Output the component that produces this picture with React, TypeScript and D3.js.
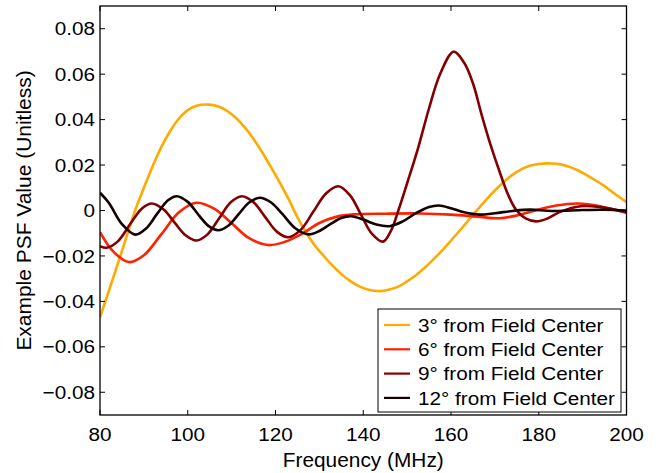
import React from "react";
import * as d3 from "d3";

// ---- data ----
const seriesNames = [
  "3\u00b0 from Field Center",
  "6\u00b0 from Field Center",
  "9\u00b0 from Field Center",
  "12\u00b0 from Field Center",
];
const seriesColors = ["#FFAA00", "#FF2200", "#840000", "#160000"];

const freq3 = [80, 82, 84, 86, 88, 90, 92, 94, 96, 98, 100, 102, 104.7, 107, 109, 111, 113, 115, 117, 119, 121, 123, 125, 127, 129, 131, 133, 135, 137, 139, 141, 143.8, 146, 148, 150, 152, 154, 156, 158, 160, 162, 164, 166, 168, 170, 172, 174, 176, 178, 180, 182.8, 185, 187, 189, 191, 193, 195, 197, 200];
const psf3 = [-0.047, -0.0355, -0.0238, -0.0118, 0.0, 0.01, 0.0195, 0.028, 0.035, 0.0405, 0.0442, 0.0461, 0.0466, 0.0458, 0.0438, 0.0407, 0.0366, 0.0315, 0.0255, 0.019, 0.0122, 0.005, -0.003, -0.0098, -0.0155, -0.02, -0.0243, -0.028, -0.031, -0.0333, -0.0348, -0.0355, -0.0348, -0.0335, -0.0312, -0.0285, -0.0252, -0.0215, -0.0175, -0.0132, -0.0088, -0.0043, 0.0003, 0.0047, 0.0088, 0.0125, 0.0157, 0.0181, 0.0197, 0.0205, 0.0207, 0.0203, 0.0192, 0.0176, 0.0155, 0.0132, 0.0107, 0.0078, 0.0037];

const freq6 = [80, 83, 86.6, 90, 94, 98, 102, 106, 110, 114, 118.3, 122, 126, 130, 134, 138, 145, 153, 160, 166, 171, 175, 178.6, 184, 189, 194, 197, 200];
const psf6 = [-0.0095, -0.018, -0.0227, -0.0197, -0.0104, -0.0008, 0.0034, 0.0008, -0.0056, -0.0122, -0.0152, -0.0139, -0.0103, -0.0055, -0.0027, -0.0017, -0.0014, -0.0013, -0.0018, -0.0027, -0.0034, -0.0022, -0.0003, 0.0022, 0.0031, 0.0019, 0.0005, -0.001];

const freq9 = [80, 81.5, 84, 87, 89.5, 91.8, 94.5, 97, 99.5, 102, 104.5, 107.2, 109.8, 112.3, 115, 117.7, 120.3, 122.9, 125.8, 128.6, 131.5, 134.3, 137, 139.6, 142, 144.5, 146.3, 148, 150, 152.5, 155, 157.5, 160.6, 163, 165, 167, 169, 171, 173, 174.8, 177, 179.4, 182, 185, 189.5, 194, 200];
const psf9 = [-0.0157, -0.0164, -0.0137, -0.0056, 0.0008, 0.0031, 0.0004, -0.0053, -0.0109, -0.0132, -0.0105, -0.0033, 0.0036, 0.0063, 0.0036, -0.003, -0.0093, -0.0118, -0.0084, -0.0006, 0.0075, 0.0107, 0.0067, -0.0023, -0.0103, -0.0137, -0.009, 0.0, 0.012, 0.0275, 0.045, 0.06, 0.0699, 0.065, 0.056, 0.042, 0.029, 0.0175, 0.007, 0.0004, -0.0035, -0.0048, -0.0035, -0.0005, 0.0019, 0.0015, -0.0008];

const freq12 = [80, 82, 85, 88, 90.5, 93, 95.5, 97.5, 100, 102.5, 104.8, 106.9, 109.3, 111.7, 114, 116.4, 119, 121.5, 124.5, 127.5, 130, 132.5, 135, 137.3, 140, 143, 146, 149, 152, 155, 157.2, 160, 163, 166.5, 170, 174, 178, 183, 190, 195, 200];
const psf12 = [0.0078, 0.0034, -0.006, -0.0106, -0.0079, -0.0015, 0.0045, 0.0063, 0.0038, -0.002, -0.0069, -0.0087, -0.0066, -0.0014, 0.0035, 0.0056, 0.0035, -0.0014, -0.0078, -0.0105, -0.009, -0.006, -0.0033, -0.0025, -0.004, -0.0062, -0.0069, -0.0048, -0.0012, 0.0015, 0.0022, 0.001, -0.0008, -0.0018, -0.0012, -0.0002, 0.0004, -0.0002, 0.0002, 0.0003, 0.0];

const xTicks = [80, 100, 120, 140, 160, 180, 200];
const yTicks = [-0.08, -0.06, -0.04, -0.02, 0, 0.02, 0.04, 0.06, 0.08];
const yTickLabels = ["\u22120.08", "\u22120.06", "\u22120.04", "\u22120.02", "0", "0.02", "0.04", "0.06", "0.08"];

const W = 658;
const H = 473;
const FONT = "'Liberation Sans', Arial, Helvetica, sans-serif";

export default function App() {
  const left = 100, right = 626.5, top = 6, bottom = 415;
  const x = d3.scaleLinear().domain([80, 200]).range([left, right]);
  const y = d3.scaleLinear().domain([-0.09, 0.09]).range([bottom, top]);

  const line = d3
    .line<[number, number]>()
    .x((d) => x(d[0]))
    .y((d) => y(d[1]))
    .curve(d3.curveCatmullRom.alpha(0.5));

  const series = [
    [freq3, psf3],
    [freq6, psf6],
    [freq9, psf9],
    [freq12, psf12],
  ].map(([f, v]) => f.map((fi, i) => [fi, v[i]] as [number, number]));

  const tickLen = 5;
  const legX = 378, legY = 309, legW = 243, legH = 103;
  const rowH = 24.3;

  return (
    <svg
      width={W}
      height={H}
      style={{ position: "absolute", left: 0, top: 0, background: "#fff" }}
      fontFamily={FONT}
    >
      <rect x={0} y={0} width={W} height={H} fill="#fff" />
      <defs>
        <clipPath id="plotClip">
          <rect x={left} y={top} width={right - left} height={bottom - top} />
        </clipPath>
      </defs>

      {/* series */}
      <g clipPath="url(#plotClip)">
        {series.map((s, i) => (
          <path
            key={i}
            d={line(s) || ""}
            fill="none"
            stroke={seriesColors[i]}
            strokeWidth={2.6}
            strokeLinejoin="round"
          />
        ))}
      </g>

      {/* ticks */}
      <g stroke="#000" strokeWidth={1}>
        {xTicks.map((t) => (
          <g key={"xt" + t}>
            <line x1={x(t)} x2={x(t)} y1={bottom} y2={bottom - tickLen} />
            <line x1={x(t)} x2={x(t)} y1={top} y2={top + tickLen} />
          </g>
        ))}
        {yTicks.map((t) => (
          <g key={"yt" + t}>
            <line x1={left} x2={left + tickLen} y1={y(t)} y2={y(t)} />
            <line x1={right} x2={right - tickLen} y1={y(t)} y2={y(t)} />
          </g>
        ))}
      </g>

      {/* box */}
      <rect
        x={left}
        y={top}
        width={right - left}
        height={bottom - top}
        fill="none"
        stroke="#000"
        strokeWidth={1.3}
      />

      {/* tick labels */}
      <g fontSize={18.5} fill="#000">
        {xTicks.map((t) => (
          <text
            key={"xl" + t}
            textAnchor="middle"
            transform={`translate(${x(t)},${441}) scale(1.12,1)`}
          >
            {String(t)}
          </text>
        ))}
        {yTicks.map((t, i) => (
          <text
            key={"yl" + t}
            textAnchor="end"
            transform={`translate(${95},${y(t) + 6.6}) scale(1.12,1)`}
          >
            {yTickLabels[i]}
          </text>
        ))}
      </g>

      {/* axis labels */}
      <text
        fontSize={19.5}
        textAnchor="middle"
        transform={`translate(${(left + right) / 2},${467}) scale(1.07,1)`}
      >
        Frequency (MHz)
      </text>
      <text
        fontSize={19.5}
        textAnchor="middle"
        transform={`translate(${31},${(top + bottom) / 2}) rotate(-90) scale(1.075,1)`}
      >
        Example PSF Value (Unitless)
      </text>

      {/* legend */}
      <rect x={legX} y={legY} width={legW} height={legH} fill="#fff" stroke="#000" strokeWidth={1} />
      {seriesNames.map((name, i) => {
        const cy = 325 + i * rowH;
        return (
          <g key={"lg" + i}>
            <line x1={384} x2={410} y1={cy} y2={cy} stroke={seriesColors[i]} strokeWidth={2.2} />
            <text
              fontSize={18.5}
              transform={`translate(${418},${cy + 6.6}) scale(1.12,1)`}
            >
              {name}
            </text>
          </g>
        );
      })}
    </svg>
  );
}
